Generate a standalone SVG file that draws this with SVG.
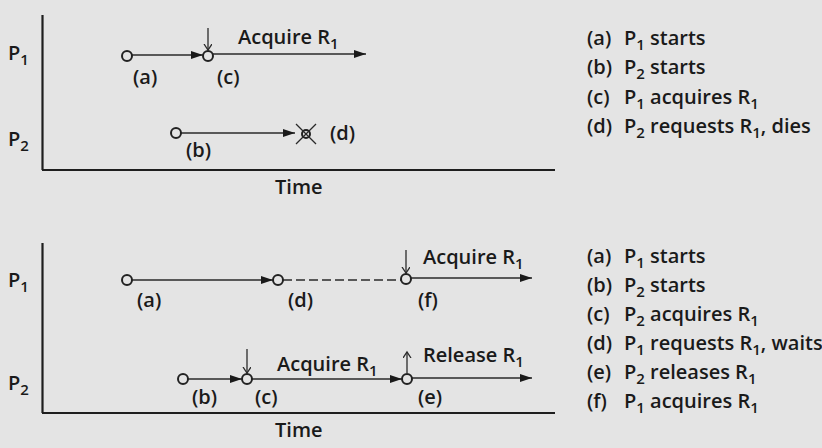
<svg xmlns="http://www.w3.org/2000/svg" width="822" height="448" viewBox="0 0 822 448">
<defs>
<style>
text{font-family:"Open Sans","Liberation Sans",sans-serif;font-size:20px;font-weight:600;fill:#1a1a1a}
.sub{font-size:15px}
.axis{stroke:#1e1e1e;stroke-width:2.2;fill:none}
.ln{stroke:#2a2a2a;stroke-width:1.6;fill:none}
.dash{stroke-dasharray:9 4}
.tick{stroke:#2a2a2a;stroke-width:1.3;fill:none}
.ev{fill:none;stroke:#222;stroke-width:2}
</style>
<marker id="ah" markerUnits="userSpaceOnUse" markerWidth="13" markerHeight="8" refX="12" refY="4" orient="auto">
<path d="M0,0 L12,4 L0,8 Z" fill="#1a1a1a"/>
</marker>
<marker id="va" markerUnits="userSpaceOnUse" markerWidth="8" markerHeight="10" refX="6" refY="4" orient="auto">
<path d="M0,0 L6,4 L0,8" fill="none" stroke="#2a2a2a" stroke-width="1.3"/>
</marker>
</defs>
<rect width="822" height="448" fill="#e4e4e4"/>

<!-- TOP DIAGRAM -->
<g id="top-axes">
<line class="axis" x1="42.5" y1="15" x2="42.5" y2="170"/>
<line class="axis" x1="42" y1="170" x2="555" y2="170"/>
<text x="8" y="60">P<tspan class="sub" dy="5">1</tspan></text>
<text x="8" y="146">P<tspan class="sub" dy="5">2</tspan></text>
<text x="275" y="194">Time</text>
</g>
<g id="top-connectors">
<line class="ln" x1="132" y1="55" x2="203" y2="55" marker-end="url(#ah)"/>
<line class="ln" x1="213" y1="54" x2="366" y2="54" marker-end="url(#ah)"/>
<line class="ln" x1="181" y1="133" x2="295" y2="133" marker-end="url(#ah)"/>
<line class="tick" x1="208" y1="28" x2="208" y2="50" marker-end="url(#va)"/>
</g>
<g id="top-a"><circle class="ev" cx="127" cy="56" r="5"/><text x="133" y="84">(a)</text></g>
<g id="top-c"><circle class="ev" cx="208" cy="56" r="5"/><text x="217" y="84">(c)</text></g>
<g id="top-b"><circle class="ev" cx="176" cy="133" r="5"/><text x="186" y="157">(b)</text></g>
<g id="top-d"><circle class="ev" cx="306" cy="134" r="4"/><line class="tick" x1="296" y1="124" x2="316" y2="144"/><line class="tick" x1="316" y1="124" x2="296" y2="144"/><text x="330" y="140">(d)</text></g>
<g id="top-acq"><text x="238" y="44">Acquire R<tspan class="sub" dy="5">1</tspan></text></g>
<g id="top-legend">
<text x="587" y="45">(a)</text><text x="624" y="45">P<tspan class="sub" dy="5">1</tspan><tspan dy="-5"> starts</tspan></text>
<text x="587" y="74">(b)</text><text x="624" y="74">P<tspan class="sub" dy="5">2</tspan><tspan dy="-5"> starts</tspan></text>
<text x="587" y="104">(c)</text><text x="624" y="104">P<tspan class="sub" dy="5">1</tspan><tspan dy="-5"> acquires R</tspan><tspan class="sub" dy="5">1</tspan></text>
<text x="587" y="133">(d)</text><text x="624" y="133">P<tspan class="sub" dy="5">2</tspan><tspan dy="-5"> requests R</tspan><tspan class="sub" dy="5">1</tspan><tspan dy="-5">, dies</tspan></text>
</g>

<!-- BOTTOM DIAGRAM -->
<g id="bot-axes">
<line class="axis" x1="42.5" y1="243" x2="42.5" y2="413"/>
<line class="axis" x1="42" y1="413" x2="555" y2="413"/>
<text x="8" y="287">P<tspan class="sub" dy="5">1</tspan></text>
<text x="8" y="390">P<tspan class="sub" dy="5">2</tspan></text>
<text x="275" y="437">Time</text>
</g>
<g id="bot-connectors">
<line class="ln" x1="132" y1="280" x2="273" y2="280" marker-end="url(#ah)"/>
<line class="ln dash" x1="283" y1="280" x2="401" y2="280"/>
<line class="ln" x1="411" y1="278" x2="532" y2="278" marker-end="url(#ah)"/>
<line class="tick" x1="406" y1="250" x2="406" y2="273" marker-end="url(#va)"/>
<line class="ln" x1="188" y1="379" x2="242" y2="379" marker-end="url(#ah)"/>
<line class="ln" x1="252" y1="379" x2="402" y2="379" marker-end="url(#ah)"/>
<line class="ln" x1="412" y1="378" x2="532" y2="378" marker-end="url(#ah)"/>
<line class="tick" x1="247" y1="349" x2="247" y2="373" marker-end="url(#va)"/>
<line class="tick" x1="407" y1="373" x2="407" y2="352" marker-end="url(#va)"/>
</g>
<g id="bot-a"><circle class="ev" cx="127" cy="280" r="5"/><text x="137" y="307">(a)</text></g>
<g id="bot-d"><circle class="ev" cx="278" cy="280" r="5"/><text x="288" y="307">(d)</text></g>
<g id="bot-f"><circle class="ev" cx="406" cy="279" r="5"/><text x="418" y="307">(f)</text></g>
<g id="bot-b"><circle class="ev" cx="183" cy="379" r="5"/><text x="192" y="404">(b)</text></g>
<g id="bot-c"><circle class="ev" cx="247" cy="379" r="5"/><text x="255" y="404">(c)</text></g>
<g id="bot-e"><circle class="ev" cx="407" cy="379" r="5"/><text x="418" y="404">(e)</text></g>
<g id="bot-labels">
<text x="423" y="264">Acquire R<tspan class="sub" dy="5">1</tspan></text>
<text x="277" y="371">Acquire R<tspan class="sub" dy="5">1</tspan></text>
<text x="423" y="362">Release R<tspan class="sub" dy="5">1</tspan></text>
</g>
<g id="bot-legend">
<text x="587" y="263">(a)</text><text x="624" y="263">P<tspan class="sub" dy="5">1</tspan><tspan dy="-5"> starts</tspan></text>
<text x="587" y="292">(b)</text><text x="624" y="292">P<tspan class="sub" dy="5">2</tspan><tspan dy="-5"> starts</tspan></text>
<text x="587" y="321">(c)</text><text x="624" y="321">P<tspan class="sub" dy="5">2</tspan><tspan dy="-5"> acquires R</tspan><tspan class="sub" dy="5">1</tspan></text>
<text x="587" y="350">(d)</text><text x="624" y="350">P<tspan class="sub" dy="5">1</tspan><tspan dy="-5"> requests R</tspan><tspan class="sub" dy="5">1</tspan><tspan dy="-5">, waits</tspan></text>
<text x="587" y="379">(e)</text><text x="624" y="379">P<tspan class="sub" dy="5">2</tspan><tspan dy="-5"> releases R</tspan><tspan class="sub" dy="5">1</tspan></text>
<text x="587" y="408">(f)</text><text x="624" y="408">P<tspan class="sub" dy="5">1</tspan><tspan dy="-5"> acquires R</tspan><tspan class="sub" dy="5">1</tspan></text>
</g>
</svg>
